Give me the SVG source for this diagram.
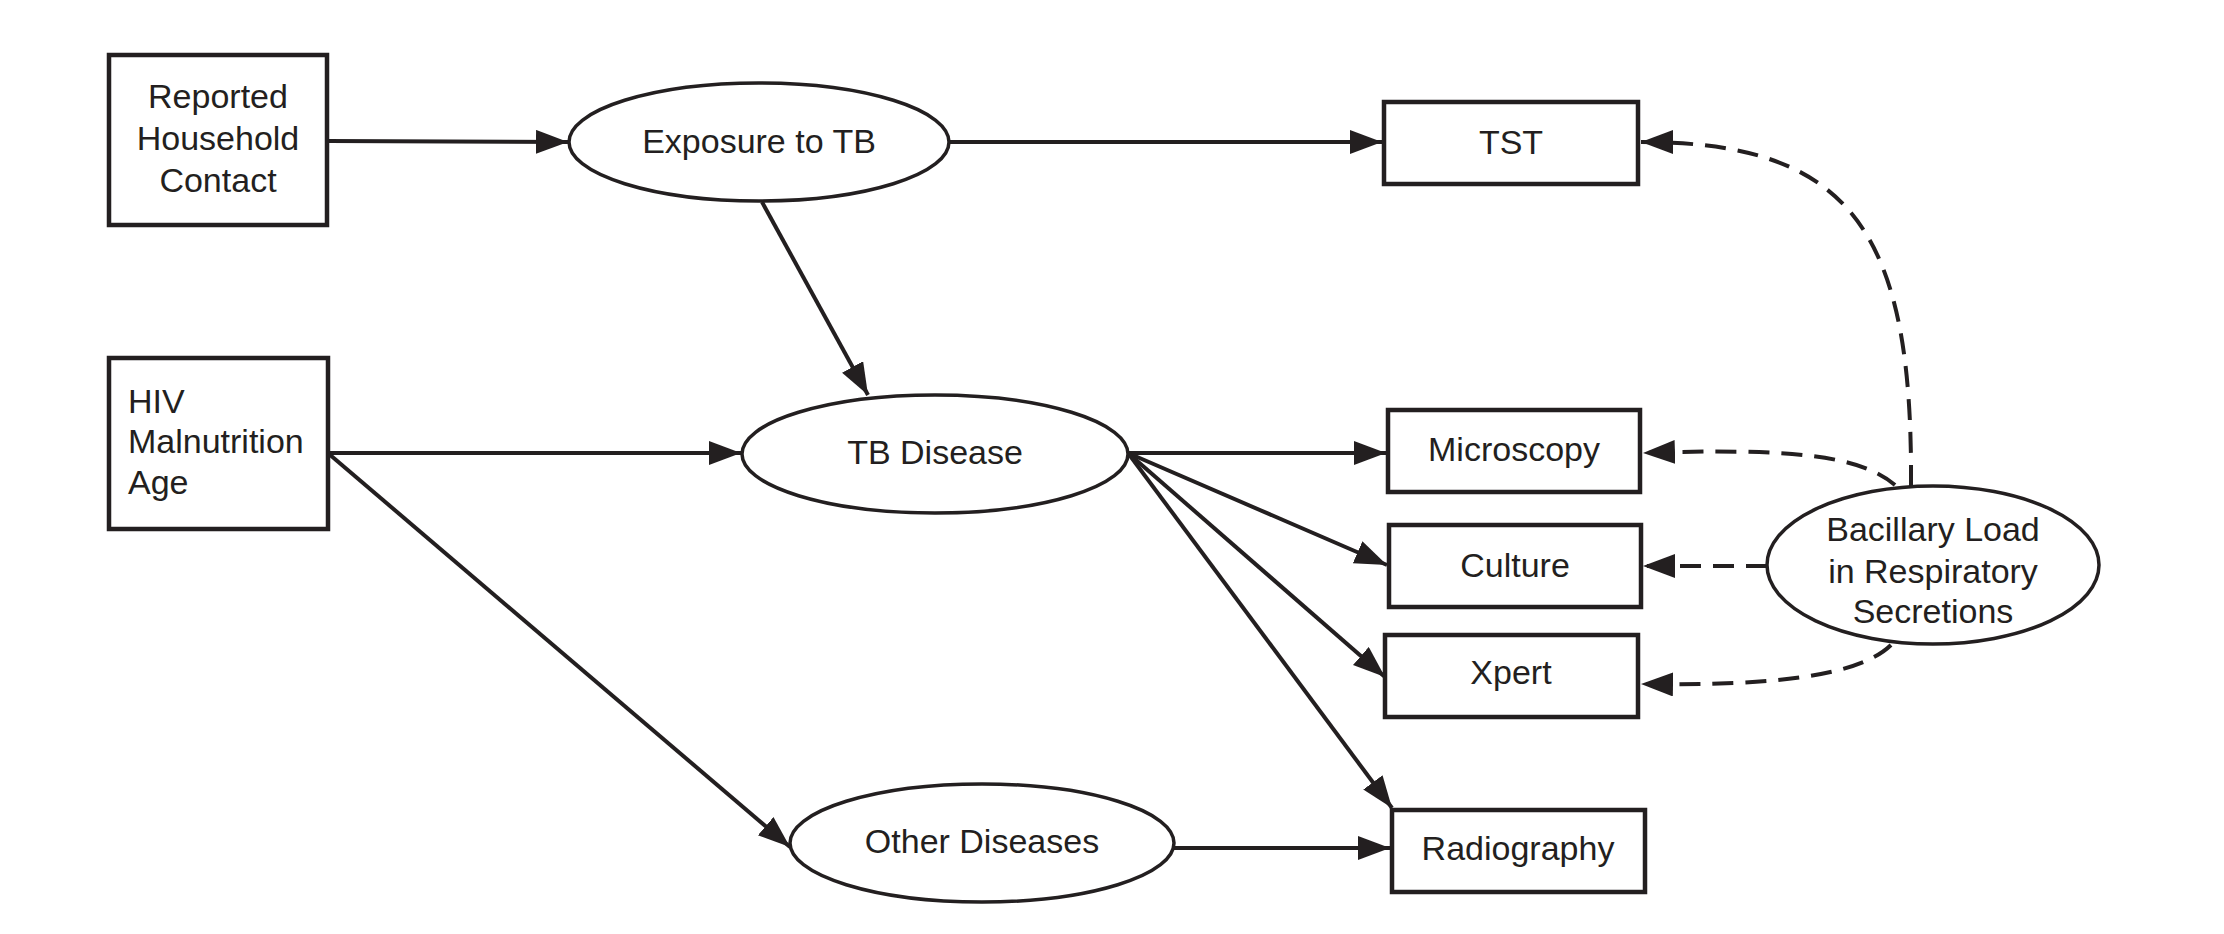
<svg xmlns="http://www.w3.org/2000/svg" width="2224" height="934" viewBox="0 0 2224 934">
<style>
  .box { fill: #fff; stroke: #231f20; stroke-width: 4.5; }
  .ell { fill: #fff; stroke: #231f20; stroke-width: 3.5; }
  .lbl { font-family: "Liberation Sans", Arial, sans-serif; font-size: 34px; fill: #231f20; text-anchor: middle; }
  .lft { text-anchor: start; }
  .edge { fill: none; stroke: #231f20; stroke-width: 4; marker-end: url(#arr); }
  .dash { stroke-dasharray: 21 12; }
</style>
<defs>
  <marker id="arr" markerUnits="userSpaceOnUse" markerWidth="34" markerHeight="26" refX="32" refY="12" orient="auto">
    <path d="M0,0 L32,12 L0,24 z" fill="#231f20"/>
  </marker>
</defs>
<rect width="2224" height="934" fill="#fff"/>

<g id="connectors">
  <path class="edge" d="M328,141 L568,142"/>
  <path class="edge" d="M949,142 L1382,142"/>
  <path class="edge" d="M762,202 L868,395"/>
  <path class="edge" d="M328,453 L741,453"/>
  <path class="edge" d="M329,454 L790,847"/>
  <path class="edge" d="M1128,453 L1386,453"/>
  <path class="edge" d="M1128,453 L1387,565"/>
  <path class="edge" d="M1128,453 L1385,677"/>
  <path class="edge" d="M1128,453 L1392,808"/>
  <path class="edge" d="M1174,848 L1390,848"/>
  <path class="edge dash" d="M1911,486 C1913,230 1850,142 1641,142"/>
  <path class="edge dash" d="M1895,485 C1860,455 1790,448 1643,453"/>
  <path class="edge dash" d="M1767,566 L1643,566"/>
  <path class="edge dash" d="M1891,645 C1860,675 1780,686 1641,684"/>
</g>

<g id="reported">
  <rect class="box" x="109" y="55" width="218" height="170"/>
  <text class="lbl" x="218" y="108">Reported</text>
  <text class="lbl" x="218" y="150">Household</text>
  <text class="lbl" x="218" y="192">Contact</text>
</g>
<g id="hiv">
  <rect class="box" x="109" y="358" width="219" height="171"/>
  <text class="lbl lft" x="128" y="413">HIV</text>
  <text class="lbl lft" x="128" y="453">Malnutrition</text>
  <text class="lbl lft" x="128" y="494">Age</text>
</g>
<g id="exposure">
  <ellipse class="ell" cx="759" cy="142" rx="190" ry="59"/>
  <text class="lbl" x="759" y="153">Exposure to TB</text>
</g>
<g id="tbdisease">
  <ellipse class="ell" cx="935" cy="454" rx="193" ry="59"/>
  <text class="lbl" x="935" y="464">TB Disease</text>
</g>
<g id="otherdiseases">
  <ellipse class="ell" cx="982" cy="843" rx="192" ry="59"/>
  <text class="lbl" x="982" y="853">Other Diseases</text>
</g>
<g id="bacillary">
  <ellipse class="ell" cx="1933" cy="565" rx="166" ry="79"/>
  <text class="lbl" x="1933" y="541">Bacillary Load</text>
  <text class="lbl" x="1933" y="583">in Respiratory</text>
  <text class="lbl" x="1933" y="623">Secretions</text>
</g>
<g id="tst">
  <rect class="box" x="1384" y="102" width="254" height="82"/>
  <text class="lbl" x="1511" y="154">TST</text>
</g>
<g id="microscopy">
  <rect class="box" x="1388" y="410" width="252" height="82"/>
  <text class="lbl" x="1514" y="461">Microscopy</text>
</g>
<g id="culture">
  <rect class="box" x="1389" y="525" width="252" height="82"/>
  <text class="lbl" x="1515" y="577">Culture</text>
</g>
<g id="xpert">
  <rect class="box" x="1385" y="635" width="253" height="82"/>
  <text class="lbl" x="1511" y="684">Xpert</text>
</g>
<g id="radiography">
  <rect class="box" x="1392" y="810" width="253" height="82"/>
  <text class="lbl" x="1518" y="860">Radiography</text>
</g>
</svg>
